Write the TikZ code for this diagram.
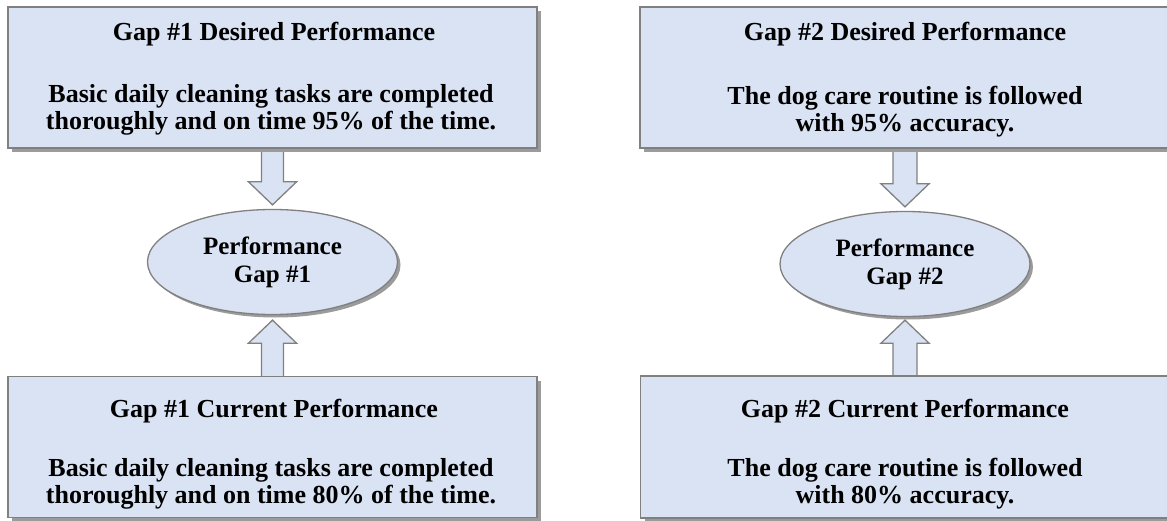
\documentclass[tikz,border=0pt]{standalone}
\usepackage{fontspec}
\setmainfont{Liberation Serif}
\usetikzlibrary{shapes.geometric,shadows,calc}
\definecolor{boxfill}{RGB}{218,227,243}
\definecolor{bordergray}{RGB}{128,128,128}
\definecolor{shadowgray}{RGB}{155,155,155}
\tikzset{
  gapbox/.style={rectangle, draw=bordergray, line width=1.3pt, fill=boxfill,
    minimum width=529pt, minimum height=141pt, inner sep=0pt,
    drop shadow={shadow xshift=4pt, shadow yshift=-4pt, fill=shadowgray, opacity=1}},
  gapellipse/.style={ellipse, draw=bordergray, line width=1.3pt, fill=boxfill,
    minimum width=250pt, minimum height=105pt, inner sep=0pt,
    drop shadow={shadow xshift=3pt, shadow yshift=-3pt, fill=shadowgray, opacity=1},
    font=\fontsize{25}{28}\selectfont\bfseries, align=center},
  txt/.style={anchor=base, inner sep=0pt, font=\fontsize{26}{27}\selectfont\bfseries},
  blockarrow/.style={draw=bordergray, line width=1.3pt, fill=boxfill, line join=miter}
}
\begin{document}
\begin{tikzpicture}[x=1pt,y=-1pt]
\useasboundingbox (0,0) rectangle (1167,521);
% ellipses
\node[gapellipse] (e1) at (272.5,262) {Performance\\Gap \#1};
\node[gapellipse] (e2) at (905,264) {Performance\\Gap \#2};
% box anchor points for arrows
\coordinate (d1s) at (272.5,148);
\coordinate (c1n) at (272.5,377);
\coordinate (d2s) at (905,148);
\coordinate (c2n) at (905,376);
% arrows
\draw[blockarrow] let \p1=(d1s), \p2=(e1.north) in
  (\x1-11,\y1) -- (\x1+11,\y1) -- (\x1+11,\y2+27) -- (\x1+24,\y2+27) -- (\x1,\y2+4) -- (\x1-24,\y2+27) -- (\x1-11,\y2+27) -- cycle;
\draw[blockarrow] let \p1=(c1n), \p2=(e1.south) in
  (\x1-11,\y1) -- (\x1+11,\y1) -- (\x1+11,\y2-28) -- (\x1+24,\y2-28) -- (\x1,\y2-5) -- (\x1-24,\y2-28) -- (\x1-11,\y2-28) -- cycle;
\draw[blockarrow] let \p1=(d2s), \p2=(e2.north) in
  (\x1-12,\y1) -- (\x1+12,\y1) -- (\x1+12,\y2+27) -- (\x1+24,\y2+27) -- (\x1,\y2+4) -- (\x1-24,\y2+27) -- (\x1-12,\y2+27) -- cycle;
\draw[blockarrow] let \p1=(c2n), \p2=(e2.south) in
  (\x1-12,\y1) -- (\x1+12,\y1) -- (\x1+12,\y2-26) -- (\x1+24,\y2-26) -- (\x1,\y2-3) -- (\x1-24,\y2-26) -- (\x1-12,\y2-26) -- cycle;
% boxes
\node[gapbox] (d1) at (272.5,77.5) {};
\node[gapbox] (c1) at (272.5,447) {};
\node[gapbox, minimum width=530pt] (d2) at (905,77.5) {};
\node[gapbox, minimum height=142pt] (c2) at (905,447) {};
% texts
\node[txt] (d1t) at (274,41) {Gap \#1 Desired Performance};
\node[txt] (d1a) at (271,103) {Basic daily cleaning tasks are completed};
\node[txt] (d1b) at (271,130) {thoroughly and on time 95\% of the time.};
\node[txt] (c1t) at (274,417) {Gap \#1 Current Performance};
\node[txt] (c1a) at (271,476) {Basic daily cleaning tasks are completed};
\node[txt] (c1b) at (271,503) {thoroughly and on time 80\% of the time.};
\node[txt] (d2t) at (905,41) {Gap \#2 Desired Performance};
\node[txt] (d2a) at (905,105) {The dog care routine is followed};
\node[txt] (d2b) at (905,132) {with 95\% accuracy.};
\node[txt] (c2t) at (905,417) {Gap \#2 Current Performance};
\node[txt] (c2a) at (905,476) {The dog care routine is followed};
\node[txt] (c2b) at (905,503) {with 80\% accuracy.};
\end{tikzpicture}
\end{document}
